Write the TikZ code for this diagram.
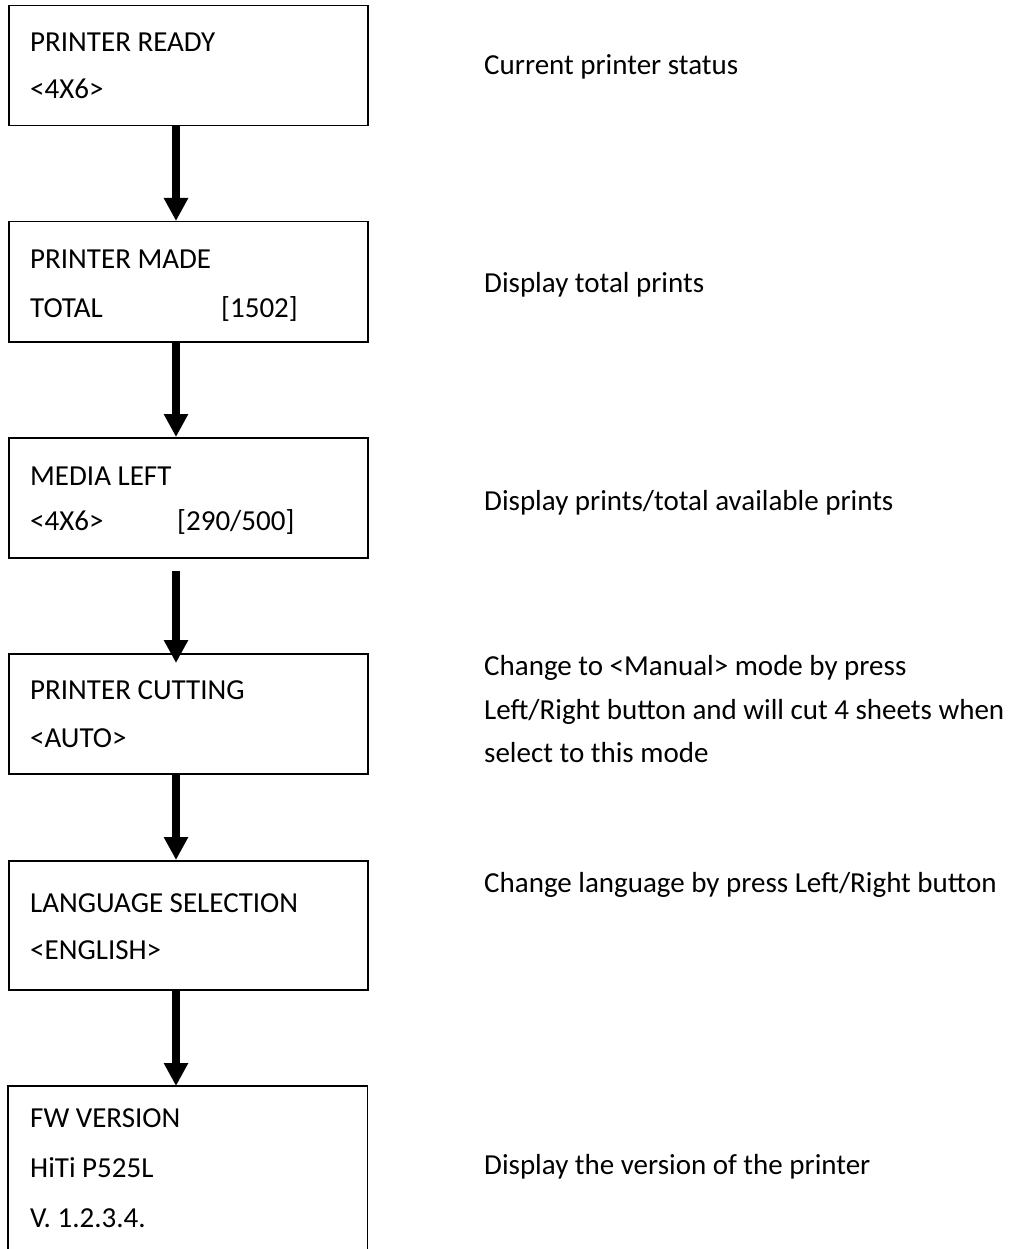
\documentclass[tikz,border=0pt]{standalone}
\usepackage{fontspec}
\setmainfont{Carlito}
\usetikzlibrary{arrows.meta}
\begin{document}
\begin{tikzpicture}[x=1pt,y=-1pt,
  box/.style={draw=black, line width=1.5pt, rectangle, minimum width=359pt, inner sep=0pt, anchor=north west},
  ghost/.style={rectangle, minimum width=359pt, inner sep=0pt, anchor=north west},
  lbl/.style={anchor=base west, inner sep=0pt, font=\fontsize{29}{34}\selectfont},
  flow/.style={line width=8pt, -{Triangle[width=23pt,length=23pt]}}
]
\useasboundingbox (0,0) rectangle (1017,1249);
% boxes
\node[box, minimum height=120pt] (b1) at (8,5) {};
\node[box, minimum height=120pt] (b2) at (8,221) {};
\node[box, minimum height=120pt] (b3) at (8,437) {};
\node[box, minimum height=120pt] (b4) at (8,653) {};
\node[box, minimum height=129pt] (b5) at (8,860) {};
\node[ghost, minimum height=163pt] (b6) at (8,1086) {};
\draw[line width=1.5pt] (b6.south west) -- (b6.north west) -- (b6.north east) -- (b6.south east);
% box texts
\node[lbl] (t1a) at (30,52) {PRINTER READY};
\node[lbl] (t1b) at (30,99) {<4X6>};
\node[lbl] (t2a) at (30,269) {PRINTER MADE};
\node[lbl] (t2b) at (30,317) {TOTAL};
\node[lbl] (t2c) at (221,317) {[1502]};
\node[lbl] (t3a) at (30,485) {MEDIA LEFT};
\node[lbl] (t3b) at (30,530) {<4X6>};
\node[lbl] (t3c) at (177,530) {[290/500]};
\node[lbl] (t4a) at (30,699) {PRINTER CUTTING};
\node[lbl] (t4b) at (30,747) {<AUTO>};
\node[lbl] (t5a) at (30,912) {LANGUAGE SELECTION};
\node[lbl] (t5b) at (30,959) {<ENGLISH>};
\node[lbl] (t6a) at (30,1127) {FW VERSION};
\node[lbl] (t6b) at (30,1177) {HiTi P525L};
\node[lbl] (t6c) at (30,1227) {V. 1.2.3.4.};
% descriptions
\node[lbl] (d1) at (484,75) {Current printer status};
\node[lbl] (d2) at (484,292) {Display total prints};
\node[lbl] (d3) at (484,510) {Display prints/total available prints};
\node[lbl] (d4a) at (484,675) {Change to <Manual> mode by press};
\node[lbl] (d4b) at (484,719) {Left/Right button and will cut 4 sheets when};
\node[lbl] (d4c) at (484,762) {select to this mode};
\node[lbl] (d5) at (484,892) {Change language by press Left/Right button};
\node[lbl] (d6) at (484,1174) {Display the version of the printer};
% arrows
\draw[flow] ([xshift=168pt]b1.south west) -- ([xshift=168pt]b2.north west);
\draw[flow] ([xshift=168pt]b2.south west) -- ([xshift=168pt]b3.north west);
\draw[flow] ([xshift=168pt,yshift=-12pt]b3.south west) -- ([xshift=168pt,yshift=-10pt]b4.north west);
\draw[flow] ([xshift=168pt]b4.south west) -- ([xshift=168pt]b5.north west);
\draw[flow] ([xshift=168pt]b5.south west) -- ([xshift=168pt]b6.north west);
\end{tikzpicture}
\end{document}
